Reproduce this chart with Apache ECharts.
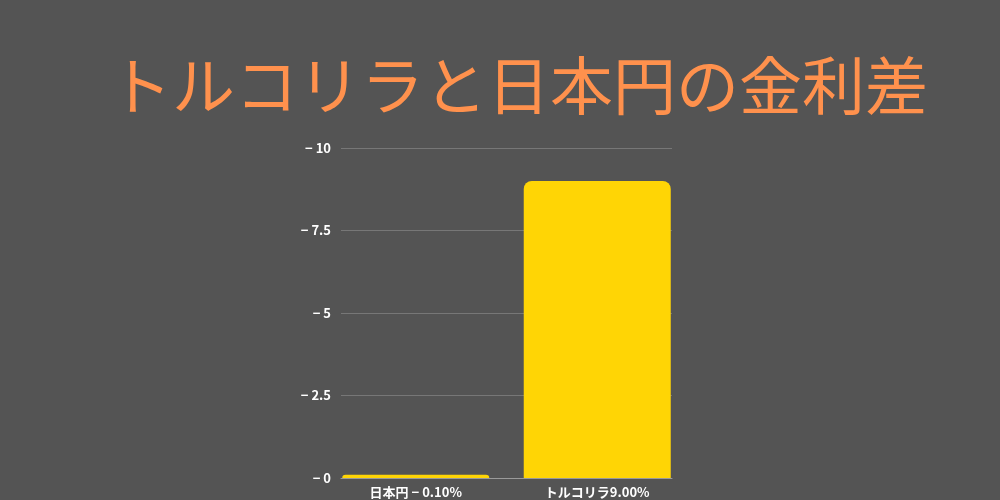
<!DOCTYPE html>
<html><head><meta charset="utf-8">
<script src="https://cdn.jsdelivr.net/npm/echarts@6/dist/echarts.min.js"></script>
<style>html,body{margin:0;padding:0;background:#545454;}#c{width:1000px;height:500px;}</style>
</head><body><div id="c"></div>
<script>
const categories = ['日本円 − 0.10%', 'トルコリラ9.00%'];
const values = [0.1, 9.0];
const titleText = 'トルコリラと日本円の金利差';
const yMin = 0, yMax = 10, yStep = 2.5;
const chart = echarts.init(document.getElementById('c'));
const lblFont = { color: '#ffffff', fontSize: 13, fontWeight: 'bold', fontFamily: 'Noto Sans CJK JP' };
chart.setOption({
  backgroundColor: '#545454',
  title: {
    text: titleText, left: 104, top: 49,
    textStyle: { color: '#FF914D', fontSize: 63, fontWeight: 'normal', fontFamily: 'Noto Sans CJK JP' }
  },
  grid: [
    { left: 341, right: 328, top: 148, bottom: 22 },
    { left: 325, right: 312, top: 148, bottom: 22 }
  ],
  xAxis: [
    { gridIndex: 0, type: 'category', data: categories,
      axisLine: { lineStyle: { color: '#9a9a9a', width: 1 } },
      axisTick: { show: false }, axisLabel: { show: false } },
    { gridIndex: 1, type: 'category', data: categories,
      axisLine: { show: false }, axisTick: { show: false },
      axisLabel: Object.assign({ margin: 8 }, lblFont) }
  ],
  yAxis: [
    { gridIndex: 0, type: 'value', min: yMin, max: yMax, interval: yStep,
      axisLine: { show: false }, axisTick: { show: false },
      splitLine: { lineStyle: { color: '#777777', width: 1 } },
      axisLabel: Object.assign({ margin: 10, formatter: v => '− ' + v }, lblFont) },
    { gridIndex: 1, type: 'value', min: yMin, max: yMax, interval: yStep,
      show: false }
  ],
  series: [{
    type: 'bar', xAxisIndex: 1, yAxisIndex: 1, data: values, barCategoryGap: '19%',
    itemStyle: { color: '#FFD505', borderRadius: [8, 8, 0, 0] }
  }]
});
</script></body></html>
